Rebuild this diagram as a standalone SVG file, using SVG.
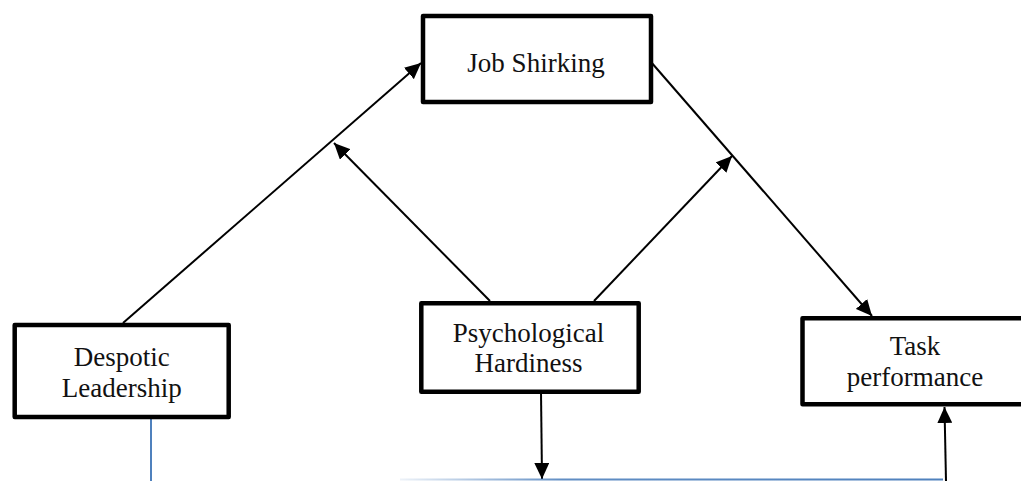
<svg xmlns="http://www.w3.org/2000/svg" width="1021" height="481" viewBox="0 0 1021 481">
  <style>
    .box { fill: #ffffff; stroke: #000000; stroke-width: 4.5; stroke-linejoin: round; }
    .lbl { font-family: "Liberation Serif", "DejaVu Serif", serif; font-size: 27px; fill: #111111; text-anchor: middle; }
    .arr { stroke: #000000; stroke-width: 2; fill: none; marker-end: url(#ah); }
    .blue { stroke: #4F81BD; stroke-width: 2; fill: none; }
  </style>
  <defs>
    <marker id="ah" markerUnits="userSpaceOnUse" markerWidth="16" markerHeight="15" refX="16" refY="7.5" orient="auto" viewBox="0 0 16 15">
      <path d="M0,0 L16,7.5 L0,15 z" fill="#000000"/>
    </marker>
    <linearGradient id="bg" x1="400" y1="0" x2="943" y2="0" gradientUnits="userSpaceOnUse">
      <stop offset="0" stop-color="#4F81BD" stop-opacity="0.1"/>
      <stop offset="0.3" stop-color="#4F81BD" stop-opacity="0.9"/>
      <stop offset="1" stop-color="#4F81BD" stop-opacity="1"/>
    </linearGradient>
  </defs>

  <g id="connectors">
    <line class="arr" x1="123" y1="323" x2="421" y2="63"/>
    <line class="arr" x1="490" y1="301" x2="334" y2="143"/>
    <line class="arr" x1="594" y1="301" x2="732" y2="156"/>
    <line class="arr" x1="651" y1="62" x2="872" y2="316"/>
    <line class="arr" x1="541" y1="392" x2="542" y2="479"/>
    <line class="arr" x1="946" y1="481" x2="944.5" y2="407"/>
    <line class="blue" x1="151" y1="419" x2="151" y2="481"/>
    <line x1="400" y1="479.5" x2="943" y2="479.5" stroke="url(#bg)" stroke-width="2"/>
  </g>

  <g id="job-shirking">
    <rect class="box" x="423" y="16" width="228" height="86"/>
    <text class="lbl" x="536" y="72">Job Shirking</text>
  </g>

  <g id="despotic-leadership">
    <rect class="box" x="14.7" y="325" width="214" height="92"/>
    <text class="lbl" x="121.7" y="366">Despotic</text>
    <text class="lbl" x="121.7" y="397">Leadership</text>
  </g>

  <g id="psychological-hardiness">
    <rect class="box" x="421.3" y="303.3" width="217.4" height="88.4"/>
    <text class="lbl" x="528.5" y="341.7">Psychological</text>
    <text class="lbl" x="528.5" y="372.3">Hardiness</text>
  </g>

  <g id="task-performance">
    <rect class="box" x="802.5" y="318.3" width="225" height="86"/>
    <text class="lbl" x="915" y="355">Task</text>
    <text class="lbl" x="915" y="386">performance</text>
  </g>
</svg>
